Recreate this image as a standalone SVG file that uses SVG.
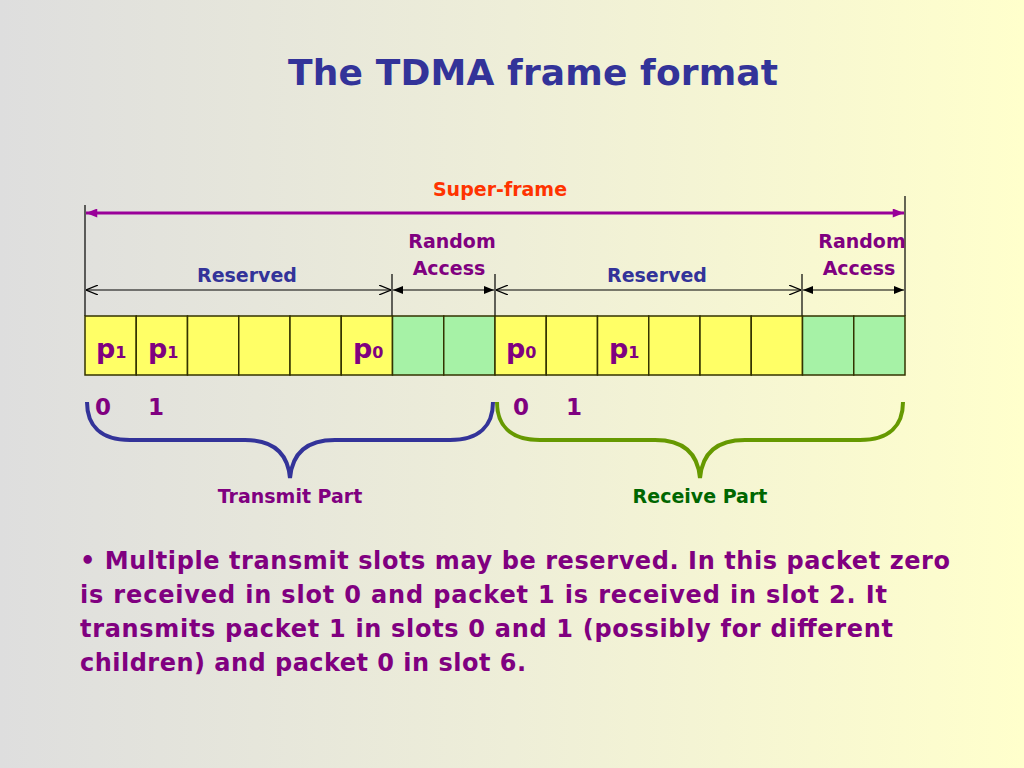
<svg xmlns="http://www.w3.org/2000/svg" width="1024" height="768" viewBox="0 0 1024 768">
<defs>
<linearGradient id="bg" x1="0" y1="0" x2="1" y2="0">
<stop offset="0" stop-color="#dedede"/>
<stop offset="0.5" stop-color="#eeeed8"/>
<stop offset="1" stop-color="#ffffcc"/>
</linearGradient>
<marker id="openA" viewBox="0 0 12 10" refX="12" refY="5" markerWidth="12" markerHeight="10" markerUnits="userSpaceOnUse" orient="auto-start-reverse">
<path d="M0,0 L12,5 L0,10" fill="none" stroke="#000" stroke-width="1.2"/>
</marker>
<marker id="fillA" viewBox="0 0 10 8" refX="10" refY="4" markerWidth="10" markerHeight="8" markerUnits="userSpaceOnUse" orient="auto-start-reverse">
<path d="M0,0 L10,4 L0,8 Z" fill="#000"/>
</marker>
<marker id="purpA" viewBox="0 0 10 8" refX="10" refY="4" markerWidth="12" markerHeight="9" markerUnits="userSpaceOnUse" orient="auto-start-reverse">
<path d="M0,0 L10,4 L0,8 Z" fill="#990099"/>
</marker>
<style>
text{font-family:"DejaVu Sans","Liberation Sans",sans-serif;font-weight:bold}
.slotY{fill:#ffff66;stroke:#333300;stroke-width:1.5}
.slotG{fill:#a6f2a6;stroke:#333300;stroke-width:1.5}
.lbl{font-size:19px;fill:#333399}
.ra{font-size:19px;fill:#800080}
.p{font-size:27px;fill:#800080}
.sub{font-size:16px}
.num{font-size:23px;fill:#800080}
.body{font-size:24px;fill:#800080}
.tick{stroke:#000;stroke-width:1.2}
</style>
</defs>
<rect width="1024" height="768" fill="url(#bg)"/>
<text x="533" y="85" text-anchor="middle" font-size="36" fill="#333399" textLength="490">The TDMA frame format</text>

<g id="connectors">
<line class="tick" x1="85" y1="205" x2="85" y2="316"/>
<line class="tick" x1="905" y1="196" x2="905" y2="316"/>
<line class="tick" x1="392" y1="274" x2="392" y2="316"/>
<line class="tick" x1="495" y1="274" x2="495" y2="316"/>
<line class="tick" x1="802" y1="274" x2="802" y2="316"/>
<line x1="86" y1="213" x2="904" y2="213" stroke="#990099" stroke-width="3" marker-start="url(#purpA)" marker-end="url(#purpA)"/>
<line x1="86" y1="290" x2="391" y2="290" stroke="#000" stroke-width="1.2" marker-start="url(#openA)" marker-end="url(#openA)"/>
<line x1="393" y1="290" x2="494" y2="290" stroke="#000" stroke-width="1.2" marker-start="url(#fillA)" marker-end="url(#fillA)"/>
<line x1="496" y1="290" x2="801" y2="290" stroke="#000" stroke-width="1.2" marker-start="url(#openA)" marker-end="url(#openA)"/>
<line x1="803" y1="290" x2="904" y2="290" stroke="#000" stroke-width="1.2" marker-start="url(#fillA)" marker-end="url(#fillA)"/>
<path d="M87,402 C87,425 100,440 130,440 L245,440 C275,440 288,455 290,478 C292,455 305,440 335,440 L450,440 C480,440 493,425 493,402" fill="none" stroke="#333399" stroke-width="4"/>
<path d="M497,402 C497,425 510,440 540,440 L655,440 C685,440 698,455 700,478 C702,455 715,440 745,440 L860,440 C890,440 903,425 903,402" fill="none" stroke="#669900" stroke-width="4"/>
</g>

<g id="labels">
<text x="500" y="196" text-anchor="middle" font-size="19" fill="#ff3300">Super-frame</text>
<text class="lbl" x="247" y="282" text-anchor="middle">Reserved</text>
<text class="lbl" x="657" y="282" text-anchor="middle">Reserved</text>
<text class="ra" x="452" y="248" text-anchor="middle">Random</text>
<text class="ra" x="449" y="275" text-anchor="middle">Access</text>
<text class="ra" x="862" y="248" text-anchor="middle">Random</text>
<text class="ra" x="859" y="275" text-anchor="middle">Access</text>
</g>

<g id="slots">
<rect class="slotY" x="85" y="316" width="51.25" height="59"/>
<rect class="slotY" x="136.25" y="316" width="51.25" height="59"/>
<rect class="slotY" x="187.5" y="316" width="51.25" height="59"/>
<rect class="slotY" x="238.75" y="316" width="51.25" height="59"/>
<rect class="slotY" x="290" y="316" width="51.25" height="59"/>
<rect class="slotY" x="341.25" y="316" width="51.25" height="59"/>
<rect class="slotG" x="392.5" y="316" width="51.25" height="59"/>
<rect class="slotG" x="443.75" y="316" width="51.25" height="59"/>
<rect class="slotY" x="495" y="316" width="51.25" height="59"/>
<rect class="slotY" x="546.25" y="316" width="51.25" height="59"/>
<rect class="slotY" x="597.5" y="316" width="51.25" height="59"/>
<rect class="slotY" x="648.75" y="316" width="51.25" height="59"/>
<rect class="slotY" x="700" y="316" width="51.25" height="59"/>
<rect class="slotY" x="751.25" y="316" width="51.25" height="59"/>
<rect class="slotG" x="802.5" y="316" width="51.25" height="59"/>
<rect class="slotG" x="853.75" y="316" width="51.25" height="59"/>
</g>

<g id="packets">
<text class="p" x="96" y="358">p<tspan class="sub">1</tspan></text>
<text class="p" x="148" y="358">p<tspan class="sub">1</tspan></text>
<text class="p" x="353" y="358">p<tspan class="sub">0</tspan></text>
<text class="p" x="506" y="358">p<tspan class="sub">0</tspan></text>
<text class="p" x="609" y="358">p<tspan class="sub">1</tspan></text>
<text class="num" x="95" y="415">0</text>
<text class="num" x="148" y="415">1</text>
<text class="num" x="513" y="415">0</text>
<text class="num" x="566" y="415">1</text>
</g>

<g id="parts">
<text x="290" y="503" text-anchor="middle" font-size="19" fill="#800080" font-weight="normal">Transmit Part</text>
<text x="700" y="503" text-anchor="middle" font-size="19" fill="#006600" font-weight="normal">Receive Part</text>
</g>

<g id="body">
<text class="body" x="80" y="569" textLength="870">• Multiple transmit slots may be reserved. In this packet zero</text>
<text class="body" x="80" y="603" textLength="807">is received in slot 0 and packet 1 is received in slot 2. It</text>
<text class="body" x="80" y="637" textLength="813">transmits packet 1 in slots 0 and 1 (possibly for different</text>
<text class="body" x="80" y="671" textLength="446">children) and packet 0 in slot 6.</text>
</g>
</svg>
